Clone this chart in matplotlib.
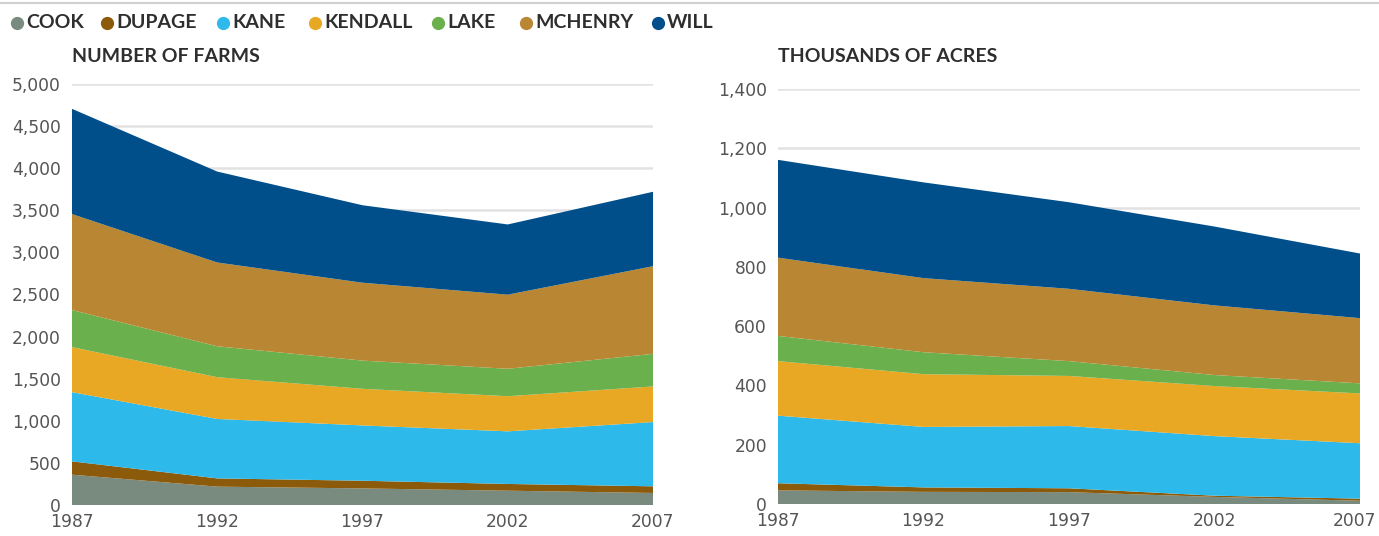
import matplotlib
matplotlib.use("Agg")
import matplotlib.pyplot as plt
from matplotlib.lines import Line2D
from matplotlib.ticker import FuncFormatter
from matplotlib.transforms import ScaledTranslation

plt.rcParams['font.family'] = ['Lato', 'DejaVu Sans']

# data
years = [1987, 1992, 1997, 2002, 2007]
counties = ["COOK", "DUPAGE", "KANE", "KENDALL", "LAKE", "MCHENRY", "WILL"]

farms_cook = [360, 218, 197, 170, 143]
farms_dupage = [158, 98, 91, 80, 79]
farms_kane = [822, 706, 657, 625, 763]
farms_kendall = [535, 496, 435, 417, 423]
farms_lake = [440, 367, 335, 326, 387]
farms_mchenry = [1140, 995, 925, 880, 1041]
farms_will = [1250, 1080, 920, 834, 884]

acres_cook = [46, 41, 40, 24, 11]
acres_dupage = [24, 15, 13, 4, 7]
acres_kane = [228, 204, 210, 201, 187]
acres_kendall = [184, 178, 169, 169, 168]
acres_lake = [85, 74, 50, 37, 34]
acres_mchenry = [264, 250, 244, 235, 220]
acres_will = [330, 323, 292, 266, 218]

colors = ['#798a7e', '#8b5a0a', '#2db9ea', '#e8a823', '#6ab04c', '#b98734', '#004f8a']

farms = [farms_cook, farms_dupage, farms_kane, farms_kendall, farms_lake, farms_mchenry, farms_will]
acres = [acres_cook, acres_dupage, acres_kane, acres_kendall, acres_lake, acres_mchenry, acres_will]

W, H = 1379, 536
fig = plt.figure(figsize=(W / 100, H / 100), dpi=100)

text_col = '#2e2e2e'
tick_col = '#555555'
grid_col = '#e2e2e2'
tick_font = ['DejaVu Sans']


def px_axes(left, top, right, bottom):
    return fig.add_axes([left / W, 1 - bottom / H, (right - left) / W, (bottom - top) / H])


def style_axes(ax, ymax, ystep):
    ax.set_xlim(years[0], years[-1])
    ax.set_ylim(0, ymax)
    ax.set_xticks(years)
    ax.set_yticks(range(0, ymax + 1, ystep))
    ax.yaxis.set_major_formatter(FuncFormatter(lambda v, p: f'{int(v):,}'))
    ax.grid(axis='y', color=grid_col, linewidth=1.8)
    ax.set_axisbelow(True)
    for s in ax.spines.values():
        s.set_visible(False)
    ax.tick_params(axis='both', length=0, labelsize=12.3, colors=tick_col)
    ax.tick_params(axis='y', pad=8)
    ax.tick_params(axis='x', pad=6)
    for lbl in ax.get_xticklabels() + ax.get_yticklabels():
        lbl.set_family(tick_font)
    ax.set_facecolor('none')


# Left chart: number of farms
ax1 = px_axes(72, 84, 653, 505)
ax1.stackplot(years, farms, colors=colors, linewidth=0)
style_axes(ax1, 5000, 500)
fig.text(72 / W, 1 - 56 / H, 'NUMBER OF FARMS', fontsize=14, fontweight='bold',
         color=text_col, va='center', ha='left')

# Right chart: thousands of acres
ax2 = px_axes(778, 89, 1360, 504)
ax2.stackplot(years, acres, colors=colors, linewidth=0)
style_axes(ax2, 1400, 200)
fig.text(778 / W, 1 - 56 / H, 'THOUSANDS OF ACRES', fontsize=14, fontweight='bold',
         color=text_col, va='center', ha='left')
# nudge the last year label so it stays inside the image
last = ax2.get_xticklabels()[-1]
last.set_transform(last.get_transform() + ScaledTranslation(-6 / 100, 0, fig.dpi_scale_trans))

# Legend row across the top
fig.add_artist(Line2D([0, 1], [1 - 3 / H, 1 - 3 / H], transform=fig.transFigure,
                      color='#cfcfcf', linewidth=1.5))
dot_x = [17, 107, 223, 315, 438, 526, 658]
for x, name, c in zip(dot_x, counties, colors):
    fig.add_artist(Line2D([x / W], [1 - 23 / H], transform=fig.transFigure, marker='o',
                          markersize=8.5, color=c, linestyle='none'))
    fig.text((x + 9) / W, 1 - 23 / H, name, fontsize=14, fontweight='bold',
             color=text_col, va='center', ha='left')

fig.savefig('out.png', dpi=100)
plt.close(fig)
